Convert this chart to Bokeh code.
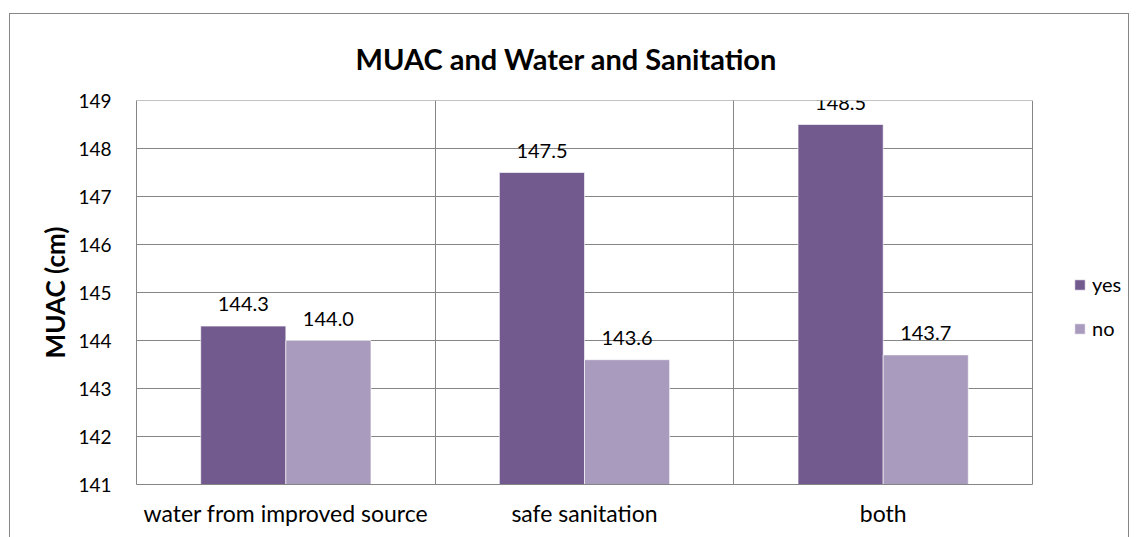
from bokeh.plotting import figure
from bokeh.models import ColumnDataSource, FixedTicker, Legend, LegendItem, Range1d
from bokeh.core.properties import value
from bokeh.embed import file_html
from bokeh.resources import INLINE

# --- data ---------------------------------------------------------------
categories = ["water from improved source", "safe sanitation", "both"]
series = ["yes", "no"]
yes_values = [144.3, 147.5, 148.5]
no_values = [144.0, 143.6, 143.7]
y_ticks = [141, 142, 143, 144, 145, 146, 147, 148, 149]

# --- styling ------------------------------------------------------------
FONT = "Lato"
GRID = "#868686"
COLORS = {"yes": "#725A8F", "no": "#A99BBE"}
BAR_W = 0.285
OFFSETS = {"yes": -0.1425, "no": 0.1425}

# layout (pixels): the plot area spans 896 px for the categories, the
# remaining frame width to the right holds the legend
FIG_W, FIG_H = 1118, 523
LEFT, TOP, BOTTOM = 126, 85, 53
CAT_PX = 896
n = len(categories)
x_end = n * (FIG_W - LEFT) / CAT_PX

p = figure(width=FIG_W, height=FIG_H, output_backend="svg", toolbar_location=None,
           x_range=Range1d(0, x_end), y_range=Range1d(y_ticks[0], y_ticks[-1]),
           min_border_left=LEFT, min_border_right=0, min_border_top=TOP,
           min_border_bottom=BOTTOM, margin=(14, 8, 0, 10))
p.styles = {"outline": "1.5px solid #868686"}
p.background_fill_color = "white"
p.border_fill_color = "white"
p.outline_line_color = None

# horizontal grid lines across the category area only
p.segment(x0=0, x1=n, y0=y_ticks, y1=y_ticks, line_color=GRID, line_width=1)

# bars with value labels above them
renderers = {}
for name, vals in (("yes", yes_values), ("no", no_values)):
    src = ColumnDataSource(dict(
        x=[i + 0.5 + OFFSETS[name] for i in range(n)],
        top=vals,
        label=[f"{v:.1f}" for v in vals],
    ))
    renderers[name] = p.vbar(x="x", top="top", bottom=y_ticks[0], width=BAR_W,
                             source=src, fill_color=COLORS[name],
                             line_color="white", line_width=1, line_alpha=0.6)
    p.text(x="x", y="top", text="label", source=src, text_align="center",
           text_baseline="bottom", y_offset=-15, text_font=value(FONT),
           text_font_size="20px", text_color="black")

# axes
p.yaxis.ticker = FixedTicker(ticks=y_ticks)
p.yaxis.axis_label = "MUAC (cm)"
p.yaxis.axis_label_text_font = FONT
p.yaxis.axis_label_text_font_style = "bold"
p.yaxis.axis_label_text_font_size = "26px"
p.yaxis.axis_label_text_color = "black"
p.yaxis.axis_label_standoff = 4
p.yaxis.major_label_text_font = FONT
p.yaxis.major_label_text_font_size = "19px"
p.yaxis.major_label_text_color = "black"
p.yaxis.major_label_standoff = 25
p.yaxis.major_tick_out = 0
p.yaxis.major_tick_in = 0
p.yaxis.major_tick_line_color = None
p.yaxis.minor_tick_line_color = None
p.yaxis.axis_line_color = GRID

centers = [i + 0.5 for i in range(n)]
p.xaxis.ticker = FixedTicker(ticks=centers)
p.xaxis.major_label_overrides = {c: cat for c, cat in zip(centers, categories)}
p.xaxis.bounds = (0, n)
p.xaxis.major_label_text_font = FONT
p.xaxis.major_label_text_font_size = "23px"
p.xaxis.major_label_text_color = "black"
p.xaxis.major_label_standoff = 14
p.xaxis.major_tick_out = 0
p.xaxis.major_tick_in = 0
p.xaxis.major_tick_line_color = None
p.xaxis.minor_tick_line_color = None
p.xaxis.axis_line_color = GRID

# vertical lines at category boundaries (including the right edge)
p.ygrid.visible = False
p.xgrid.ticker = FixedTicker(ticks=list(range(1, n + 1)))
p.xgrid.grid_line_color = GRID

# title
p.title.text = "MUAC and Water and Sanitation"
p.title.align = "left"
p.title.offset = 219
p.title.standoff = 49
p.title.text_font = FONT
p.title.text_font_style = "bold"
p.title.text_font_size = "29px"
p.title.text_color = "black"

# legend
legend = Legend(items=[LegendItem(label=s, renderers=[renderers[s]]) for s in series],
                location=(937, 144), glyph_width=13, glyph_height=13,
                label_text_font=FONT, label_text_font_size="20px",
                label_text_color="black", spacing=20, padding=0, margin=0,
                label_standoff=6, border_line_color=None,
                background_fill_alpha=0)
p.add_layout(legend, "center")

open("out.html", "w").write(file_html(p, INLINE))
